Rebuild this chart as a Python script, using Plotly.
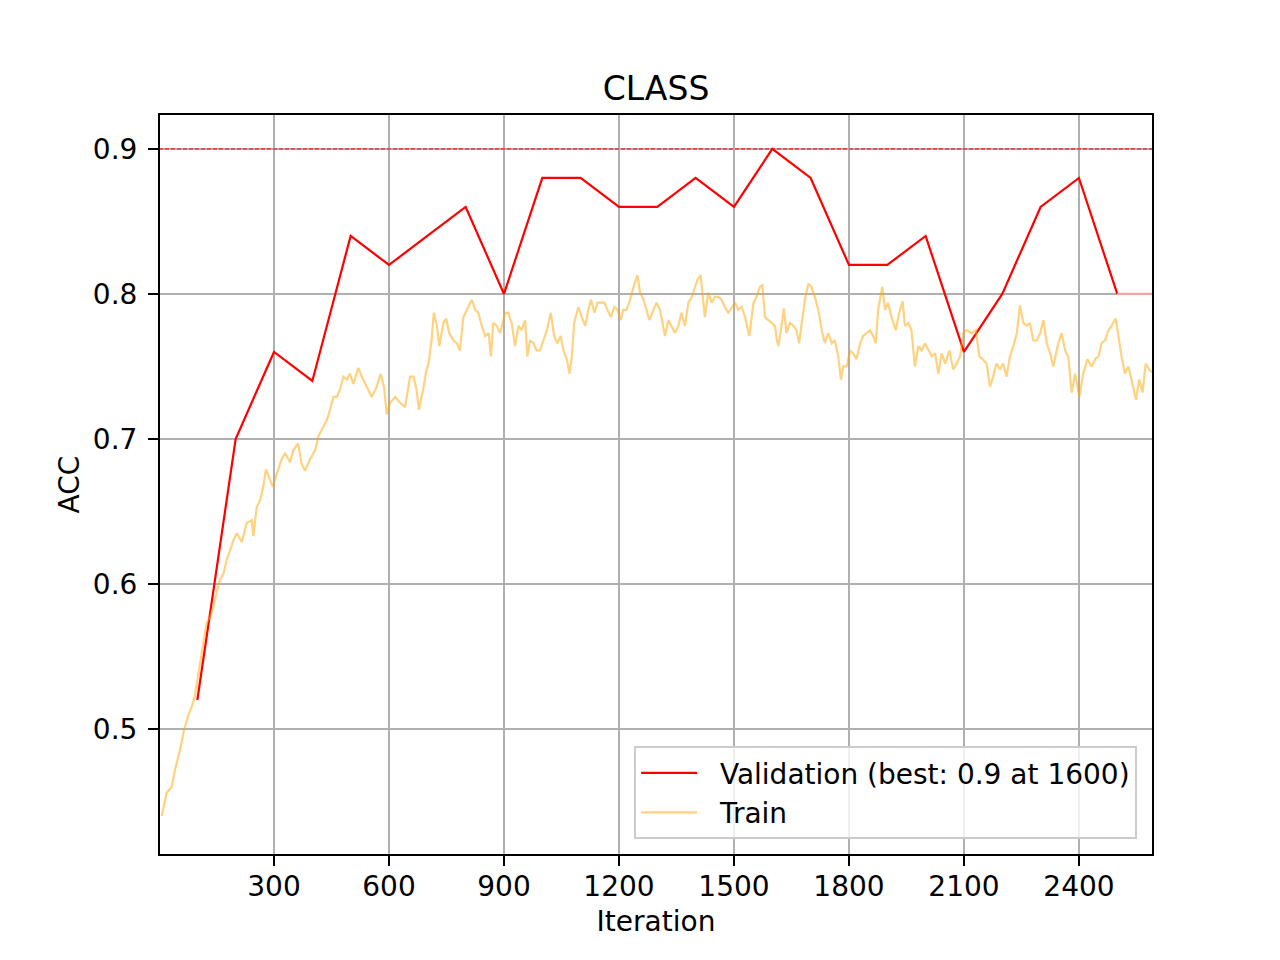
import plotly.graph_objects as go

# ---- data ----
val_iter = [100, 200, 300, 400, 500, 600, 700, 800, 900, 1000, 1100, 1200, 1300,
            1400, 1500, 1600, 1700, 1800, 1900, 2000, 2100, 2200, 2300, 2400, 2500, 2600]
val_acc = [0.52, 0.70, 0.76, 0.74, 0.84, 0.82, 0.84, 0.86, 0.80, 0.88, 0.88, 0.86, 0.86,
           0.88, 0.86, 0.90, 0.88, 0.82, 0.82, 0.84, 0.76, 0.80, 0.86, 0.88, 0.80, 0.80]

train_iter = [
    7, 20, 33, 42, 55, 65, 76, 85, 93, 100, 109, 116, 124, 133, 142, 150, 159, 168, 177, 185,
    194, 203, 216, 229, 242, 246, 255, 264, 272, 279, 290, 297, 307, 320, 329,
    342, 350, 363, 372, 381, 394, 407, 416, 424, 438, 446, 455, 464, 472, 481, 490, 498, 507,
    520, 529, 542, 555, 568, 578, 587, 594, 603, 616, 629, 642, 655, 664, 672,
    678, 689, 698, 703, 711, 717, 725, 731, 742, 749, 757, 768, 777, 785, 794, 807, 816, 825,
    833, 842, 851, 860, 866, 872, 881, 890, 903, 911, 920, 929, 938, 946, 955, 961, 968, 977, 985,
    994, 1003, 1012, 1022, 1031, 1039, 1048, 1055, 1064, 1071, 1077, 1083, 1094, 1103, 1112,
    1120, 1127, 1136, 1144, 1153, 1162, 1170, 1179, 1188, 1196, 1205, 1211, 1220, 1229, 1238,
    1248, 1255, 1264, 1272, 1279, 1290,
    1298, 1307, 1320, 1329, 1337, 1346, 1355, 1363, 1372, 1381, 1390, 1398, 1405, 1413, 1418,
    1424, 1433, 1442, 1450, 1459, 1468, 1476, 1485, 1494, 1503, 1511, 1520, 1529, 1540, 1551,
    1559, 1568, 1574, 1581, 1590, 1598, 1607,
    1612, 1616, 1624, 1630, 1637, 1646, 1655, 1663, 1670, 1676, 1685, 1694, 1702, 1711, 1720,
    1729, 1737, 1746, 1755, 1763, 1772, 1779, 1785, 1794, 1803, 1811, 1820, 1829, 1837, 1846,
    1855, 1863, 1870, 1876, 1887, 1894, 1902, 1911, 1922, 1931,
    1940, 1946, 1955, 1963, 1972, 1981, 1990, 1998, 2007, 2016, 2025, 2033, 2042, 2051, 2062,
    2072, 2081, 2090, 2098, 2107, 2120, 2131, 2140, 2149, 2159, 2168, 2176, 2185, 2194, 2202,
    2211, 2220, 2229, 2238,
    2246, 2255, 2264, 2272, 2281, 2290, 2299, 2307, 2316, 2325, 2333, 2346, 2355, 2364, 2372,
    2381, 2390, 2401, 2411, 2422, 2433, 2442, 2451, 2459, 2468, 2477, 2485, 2496, 2503, 2511,
    2520, 2529, 2537, 2549, 2557, 2566, 2574, 2583, 2590]
train_acc = [
    0.440, 0.456, 0.460, 0.472, 0.486, 0.499, 0.509, 0.515, 0.522, 0.534, 0.548, 0.561, 0.573,
    0.577, 0.584, 0.594, 0.603, 0.607, 0.617, 0.623, 0.630, 0.635, 0.629, 0.642, 0.644, 0.633,
    0.653, 0.658, 0.667, 0.679, 0.672, 0.667, 0.676, 0.686, 0.690,
    0.684, 0.692, 0.697, 0.683, 0.678, 0.686, 0.692, 0.702, 0.706, 0.713, 0.720, 0.729, 0.729,
    0.734, 0.743, 0.741, 0.745, 0.738, 0.749, 0.743, 0.736, 0.729, 0.736, 0.745, 0.736, 0.717,
    0.725, 0.729, 0.725, 0.722, 0.743, 0.743, 0.734,
    0.720, 0.734, 0.748, 0.752, 0.768, 0.787, 0.778, 0.764, 0.780, 0.783, 0.773, 0.768, 0.766,
    0.761, 0.784, 0.791, 0.796, 0.789, 0.787, 0.778, 0.771, 0.773, 0.757, 0.780, 0.778, 0.773,
    0.787, 0.787, 0.780, 0.764, 0.778, 0.775, 0.782, 0.757, 0.768, 0.766, 0.761,
    0.761, 0.768, 0.775, 0.787, 0.771, 0.766, 0.771, 0.761, 0.755, 0.745, 0.757, 0.780, 0.791,
    0.784, 0.778, 0.789, 0.796, 0.787, 0.794, 0.794, 0.794, 0.789, 0.784, 0.791, 0.789, 0.782,
    0.789, 0.789, 0.796, 0.805, 0.813, 0.801, 0.796, 0.789, 0.782, 0.789,
    0.794, 0.789, 0.771, 0.782, 0.778, 0.773, 0.778, 0.787, 0.778, 0.794, 0.798, 0.805, 0.810,
    0.813, 0.798, 0.784, 0.801, 0.794, 0.798, 0.798, 0.796, 0.791, 0.787, 0.791, 0.794, 0.789,
    0.791, 0.784, 0.771, 0.794, 0.798, 0.805, 0.806, 0.784, 0.782, 0.780, 0.778,
    0.768, 0.764, 0.778, 0.790, 0.773, 0.780, 0.778, 0.775, 0.766, 0.778, 0.796, 0.807, 0.805,
    0.798, 0.789, 0.775, 0.766, 0.773, 0.766, 0.768, 0.757, 0.741, 0.750, 0.750, 0.761, 0.759,
    0.755, 0.766, 0.771, 0.773, 0.775, 0.771, 0.766, 0.789, 0.805, 0.789, 0.794, 0.784, 0.775,
    0.787,
    0.795, 0.778, 0.780, 0.775, 0.750, 0.764, 0.761, 0.766, 0.761, 0.757, 0.759, 0.745, 0.759,
    0.752, 0.761, 0.748, 0.752, 0.757, 0.773, 0.775, 0.773, 0.775, 0.757, 0.755, 0.752, 0.736,
    0.743, 0.752, 0.748, 0.752, 0.743, 0.757, 0.764, 0.773,
    0.792, 0.780, 0.778, 0.780, 0.768, 0.768, 0.773, 0.782, 0.766, 0.759, 0.750, 0.766, 0.773,
    0.761, 0.757, 0.732, 0.745, 0.729, 0.745, 0.755, 0.750, 0.755, 0.757, 0.766, 0.768, 0.775,
    0.778, 0.783, 0.771, 0.757, 0.745, 0.750, 0.741, 0.727, 0.741, 0.732, 0.752, 0.748, 0.746]

best_acc = max(val_acc)
best_iter = val_iter[val_acc.index(best_acc)]

x_ticks = [300, 600, 900, 1200, 1500, 1800, 2100, 2400]
y_ticks = [0.5, 0.6, 0.7, 0.8, 0.9]
y_tick_text = ["0.5", "0.6", "0.7", "0.8", "0.9"]

FONT = "DejaVu Sans"
FS = 28
PAD = "\u00a0\u00a0"

fig = go.Figure()

# best line
fig.add_trace(go.Scatter(
    x=[0, 2700], y=[best_acc, best_acc], mode="lines",
    line=dict(color="red", width=1, dash="4px,2px"), showlegend=False, hoverinfo="skip"))

# validation
fig.add_trace(go.Scatter(
    x=val_iter[:-1], y=val_acc[:-1], mode="lines",
    line=dict(color="#ff0000", width=2.2),
    name=f"{PAD}Validation (best: {best_acc} at {best_iter})", legendrank=1))
fig.add_trace(go.Scatter(
    x=val_iter[-2:], y=val_acc[-2:], mode="lines",
    line=dict(color="#f4a3a3", width=2.2), showlegend=False, hoverinfo="skip"))

# train
fig.add_trace(go.Scatter(
    x=train_iter, y=train_acc, mode="lines",
    line=dict(color="rgba(255,165,0,0.5)", width=2.2),
    name=f"{PAD}Train", legendrank=2))

axis_common = dict(
    showline=True, linecolor="black", linewidth=2, mirror=True,
    ticks="outside", ticklen=10, tickwidth=2, tickcolor="black",
    showgrid=True, gridcolor="#b0b0b0", gridwidth=2, zeroline=False,
    tickfont=dict(family=FONT, size=FS, color="black"),
)

fig.update_layout(
    width=1280, height=960,
    paper_bgcolor="white", plot_bgcolor="white",
    margin=dict(l=160, r=128, t=115, b=106, autoexpand=False),
    font=dict(family=FONT, color="black"),
    title=dict(text="CLASS", x=0.5125, xanchor="center", y=1 - 88 / 960, yanchor="middle",
               font=dict(family=FONT, size=33, color="black")),
    xaxis=dict(range=[2.6, 2590.6], tickvals=x_ticks, ticktext=[str(v) for v in x_ticks],
               ticklabelstandoff=-4,
               title=dict(text="Iteration", font=dict(family=FONT, size=FS, color="black"),
                          standoff=10),
               **axis_common),
    yaxis=dict(range=[0.4138, 0.9234], tickvals=y_ticks, ticktext=y_tick_text,
               ticklabelstandoff=5,
               title=dict(text="ACC", font=dict(family=FONT, size=FS, color="black"),
                          standoff=5),
               **axis_common),
    legend=dict(x=0.985, xanchor="right", y=0.02, yanchor="bottom",
                bgcolor="rgba(255,255,255,0.8)", bordercolor="#cccccc", borderwidth=2,
                font=dict(family=FONT, size=FS, color="black"),
                itemwidth=56, tracegroupgap=0),
    showlegend=True,
)

fig.write_html("out.html")
